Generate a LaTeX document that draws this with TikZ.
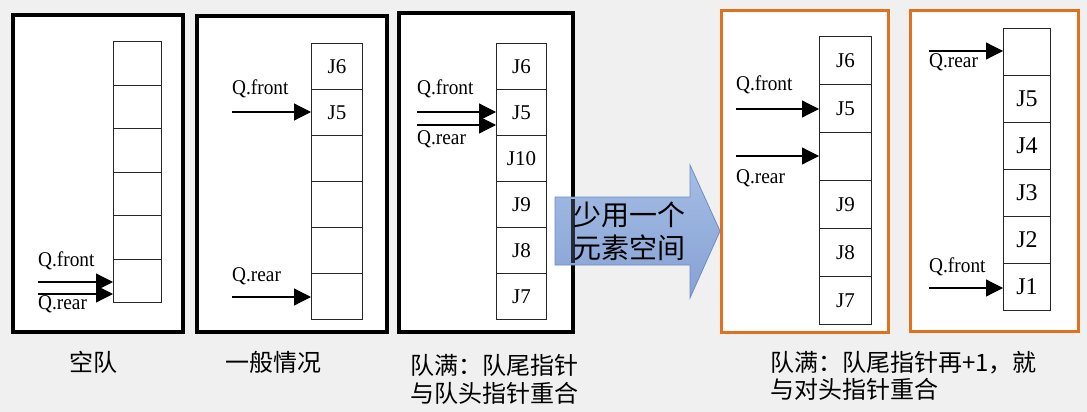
\documentclass[tikz,border=0pt]{standalone}
\usepackage{fontspec}
\setmainfont{Liberation Serif}
\newfontfamily\lserif{Liberation Serif}
\newfontfamily\cjk{Noto Sans CJK SC}
\usetikzlibrary{arrows.meta,shadows}
\definecolor{bg}{HTML}{F0F0F0}
\definecolor{frameorange}{HTML}{E2711D}
\definecolor{arrowtop}{HTML}{A5BDE5}
\definecolor{arrowbot}{HTML}{86A2D4}
\definecolor{arrowedge}{HTML}{6A8CC6}
\tikzset{
  panel/.style={fill=white, line width=3.5pt,
    drop shadow={shadow xshift=2pt, shadow yshift=-2pt, opacity=0.25, fill=black}},
  blackpanel/.style={panel, draw=black},
  orangepanel/.style={panel, draw=frameorange, line width=3pt},
  cell/.style={draw=black!85, line width=0.9pt, inner sep=0pt, fill=white,
    font=\lserif\fontsize{21}{23}\selectfont},
  bigcell/.style={cell, font=\lserif\fontsize{24}{26}\selectfont},
  ptr/.style={line width=1.2pt, -{Triangle[length=17pt,width=17pt]}},
  qlabel/.style={anchor=west, inner sep=0pt, xscale=0.92,
    font=\lserif\fontsize{21}{23}\selectfont},
  caption/.style={inner sep=0pt, font=\cjk\fontsize{24}{28}\selectfont},
}
% #1 name prefix, #2 left x, #3 top y, #4 width, #5 height, #6 style, #7 labels
\newcommand\cellcol[7]{%
  \foreach \l [count=\i] in {#7} {
    \node[#6, minimum width=#4pt, minimum height=#5pt, anchor=north west]
      (#1\i) at (#2, {#3+(\i-1)*#5}) {\l};
  }}
\begin{document}
\begin{tikzpicture}[x=1pt,y=-1pt]
\fill[bg] (0,0) rectangle (1087,412);
\useasboundingbox (0,0) rectangle (1087,412);

% ---------- panels ----------
\path[blackpanel] (13,15) rectangle (183,332);
\path[blackpanel] (197,16) rectangle (387,332);
\path[blackpanel] (399,13) rectangle (573,332);
\path[orangepanel] (721,11) rectangle (888,332);
\path[orangepanel] (910,11) rectangle (1078,331);

% ---------- panel 1 : empty queue ----------
\cellcol{p1c}{113}{41}{48}{43.5}{cell}{{},{},{},{},{},{}}
\coordinate (p1f) at (38,282);
\coordinate (p1r) at (38,294);
\draw[ptr] (p1f) -- (p1f -| p1c6.west);
\draw[ptr] (p1r) -- (p1r -| p1c6.west);
\node[qlabel] (p1fl) at (38,261) {Q.front};
\node[qlabel] (p1rl) at (38,304) {Q.rear};

% ---------- panel 2 : general ----------
\cellcol{p2c}{311}{43}{51}{46}{cell}{J6,J5,{},{},{},{}}
\coordinate (p2f) at (232,112);
\coordinate (p2r) at (232,297);
\draw[ptr] (p2f) -- (p2f -| p2c2.west);
\draw[ptr] (p2r) -- (p2r -| p2c6.west);
\node[qlabel] (p2fl) at (232,89) {Q.front};
\node[qlabel] (p2rl) at (232,276) {Q.rear};

% ---------- panel 3 : full, pointers coincide ----------
\cellcol{p3c}{496}{43}{50}{46}{cell}{J6,J5,J10,J9,J8,J7}
\coordinate (p3f) at (417,112);
\coordinate (p3r) at (417,125);
\draw[ptr] (p3f) -- (p3f -| p3c2.west);
\draw[ptr] (p3r) -- (p3r -| p3c2.west);
\node[qlabel] (p3fl) at (417,89) {Q.front};
\node[qlabel] (p3rl) at (417,139) {Q.rear};

% ---------- panel 4 : one slot left free ----------
\cellcol{p4c}{819}{36}{52}{48}{cell}{J6,J5,{},J9,J8,J7}
\coordinate (p4f) at (736,109);
\coordinate (p4r) at (736,156);
\draw[ptr] (p4f) -- (p4f -| p4c2.west);
\draw[ptr] (p4r) -- (p4r -| p4c3.west);
\node[qlabel] (p4fl) at (736,85) {Q.front};
\node[qlabel] (p4rl) at (736,178) {Q.rear};

% ---------- panel 5 ----------
\cellcol{p5c}{1003}{28}{47}{47}{bigcell}{{},J5,J4,J3,J2,J1}
\coordinate (p5r) at (929,51);
\coordinate (p5f) at (929,288);
\draw[ptr] (p5r) -- (p5r -| p5c1.west);
\draw[ptr] (p5f) -- (p5f -| p5c6.west);
\node[qlabel] (p5rl) at (929,62) {Q.rear};
\node[qlabel] (p5fl) at (929,267) {Q.front};

% ---------- big arrow ----------
\shade[top color=arrowtop, bottom color=arrowbot, draw=arrowedge, line width=0.8pt]
  (555,197) -- (690,197) -- (690,165) -- (720,231) -- (690,298) -- (690,265)
  -- (555,265) -- cycle;
\draw[black, line width=3.5pt, opacity=0.75] (573,199) -- (573,263);
\node[font=\cjk\fontsize{28}{33}\selectfont, align=left, inner sep=0pt]
  (arrtxt) at (629,231) {少用一个\\元素空间};

% ---------- captions ----------
\node[caption] (cap1) at (93,362) {空队};
\node[caption] (cap2) at (273,362) {一般情况};
\node[caption, anchor=west] (cap3a) at (410,365) {队满：队尾指针};
\node[caption, anchor=west] (cap3b) at (410,393) {与队头指针重合};
\node[caption, anchor=west] (cap4a) at (770,363) {队满：队尾指针再+1，就};
\node[caption, anchor=west] (cap4b) at (770,389) {与对头指针重合};
\end{tikzpicture}
\end{document}
